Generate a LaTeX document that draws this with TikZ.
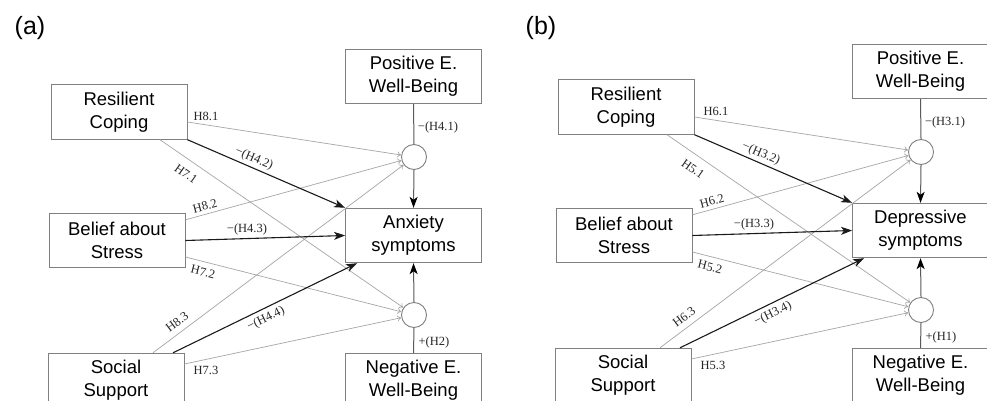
\documentclass[tikz,border=0pt]{standalone}
\usepackage{fontspec}
\setmainfont{Liberation Serif}
\newfontfamily\sansf{Liberation Sans}
\usetikzlibrary{arrows.meta}
\definecolor{boxgray}{HTML}{808080}
\definecolor{thingray}{HTML}{A6A6A6}
\definecolor{darkln}{HTML}{1A1A1A}
\begin{document}
\begin{tikzpicture}[x=1pt,y=-1pt,
  vbox/.style={draw=boxgray,line width=0.9pt,minimum width=136pt,minimum height=54.5pt,
     align=center,inner sep=0pt,font=\sansf\fontsize{18.5}{23}\selectfont},
  mod/.style={circle,draw=boxgray,line width=0.9pt,minimum size=25pt,inner sep=0pt},
  weak/.style={draw=thingray,line width=0.7pt,-{To[length=4pt,width=6pt]}},
  strong/.style={draw=darkln,line width=1.1pt,-{Stealth[length=11pt,width=8pt,inset=3pt]}},
  vline/.style={draw=black!65,line width=1pt},
  vstrong/.style={draw=black!65,line width=1pt,-{Stealth[length=11pt,width=8pt,inset=3pt,color=black]}},
  hlab/.style={font=\fontsize{12.5}{14}\selectfont,inner sep=0pt,text=black!85},
  plab/.style={font=\sansf\fontsize{25}{28}\selectfont,inner sep=0pt}]
\useasboundingbox (0,0) rectangle (987,401);
\fill[white] (0,0) rectangle (987,401);

% ---------------- panel (a)
\node[plab] (a-lab) at (30,28) {(a)};
\begin{scope}
\node[vbox] (a-rc) at (119,112) {Resilient\\Coping};
\node[vbox] (a-bs) at (117,240.5) {Belief about\\Stress};
\node[vbox] (a-ss) at (116,380.5) {Social\\Support};
\node[vbox] (a-pw) at (413.5,76.5) {Positive E.\\Well-Being};
\node[vbox] (a-an) at (413.5,235.5) {Anxiety\\symptoms};
\node[vbox] (a-nw) at (413.5,380.5) {Negative E.\\Well-Being};
\node[mod] (a-c1) at (414,157) {};
\node[mod] (a-c2) at (414,315) {};

\draw[vline] (a-pw.south) -- (a-c1.north);
\draw[vstrong] (a-c1.south) -- (a-an.north);
\draw[vline] (a-nw.north) -- (a-c2.south);
\draw[vstrong] (a-c2.north) -- (a-an.south);

\draw[weak] ([yshift=-10pt]a-rc.east) -- (a-c1);
\draw[weak] ([xshift=41pt]a-rc.south) -- (a-c2);
\draw[weak] ([yshift=-7pt]a-bs.north east) -- (a-c1);
\draw[weak] ([yshift=-16.5pt]a-bs.east) -- (a-c2);
\draw[weak] ([xshift=37pt]a-ss.north) -- (a-c1);
\draw[weak] ([yshift=16.5pt]a-ss.east) -- (a-c2);

\draw[strong] (a-rc.south east) -- (a-an.north west);
\draw[strong] (a-bs.east) -- (a-an.west);
\draw[strong] ([xshift=57pt]a-ss.north) -- ([xshift=12pt]a-an.south west);

\node[hlab] (a-l1) at (206,116) {H8.1};
\node[hlab,rotate=-35] (a-l2) at (186,174) {H7.1};
\node[hlab,rotate=-23] (a-l3) at (254,159) {−(H4.2)};
\node[hlab,rotate=15] (a-l4) at (205,206) {H8.2};
\node[hlab] (a-l5) at (247,229) {−(H4.3)};
\node[hlab,rotate=-14] (a-l6) at (203,272) {H7.2};
\node[hlab,rotate=37] (a-l7) at (177,322) {H8.3};
\node[hlab,rotate=26] (a-l8) at (266,319) {−(H4.4)};
\node[hlab] (a-l9) at (206,370) {H7.3};
\node[hlab] (a-l10) at (438,127) {−(H4.1)};
\node[hlab] (a-l11) at (434,342) {+(H2)};
\end{scope}

% ---------------- panel (b)
\node[plab] (b-lab) at (541,28) {(b)};
\begin{scope}[shift={(507,-5)}]
\node[vbox] (b-rc) at (119,112) {Resilient\\Coping};
\node[vbox] (b-bs) at (117,240.5) {Belief about\\Stress};
\node[vbox] (b-ss) at (116,380.5) {Social\\Support};
\node[vbox] (b-pw) at (413.5,76.5) {Positive E.\\Well-Being};
\node[vbox] (b-an) at (413.5,235.5) {Depressive\\symptoms};
\node[vbox] (b-nw) at (413.5,380.5) {Negative E.\\Well-Being};
\node[mod] (b-c1) at (414,157) {};
\node[mod] (b-c2) at (414,315) {};

\draw[vline] (b-pw.south) -- (b-c1.north);
\draw[vstrong] (b-c1.south) -- (b-an.north);
\draw[vline] (b-nw.north) -- (b-c2.south);
\draw[vstrong] (b-c2.north) -- (b-an.south);

\draw[weak] ([yshift=-10pt]b-rc.east) -- (b-c1);
\draw[weak] ([xshift=41pt]b-rc.south) -- (b-c2);
\draw[weak] ([yshift=-7pt]b-bs.north east) -- (b-c1);
\draw[weak] ([yshift=-16.5pt]b-bs.east) -- (b-c2);
\draw[weak] ([xshift=37pt]b-ss.north) -- (b-c1);
\draw[weak] ([yshift=16.5pt]b-ss.east) -- (b-c2);

\draw[strong] (b-rc.south east) -- (b-an.north west);
\draw[strong] (b-bs.east) -- (b-an.west);
\draw[strong] ([xshift=57pt]b-ss.north) -- ([xshift=12pt]b-an.south west);

\node[hlab] (b-l1) at (209,116) {H6.1};
\node[hlab,rotate=-35] (b-l2) at (186,174) {H5.1};
\node[hlab,rotate=-23] (b-l3) at (254,159) {−(H3.2)};
\node[hlab,rotate=15] (b-l4) at (205,206) {H6.2};
\node[hlab] (b-l5) at (247,229) {−(H3.3)};
\node[hlab,rotate=-14] (b-l6) at (203,272) {H5.2};
\node[hlab,rotate=37] (b-l7) at (177,322) {H6.3};
\node[hlab,rotate=26] (b-l8) at (266,319) {−(H3.4)};
\node[hlab] (b-l9) at (206,370) {H5.3};
\node[hlab] (b-l10) at (438,127) {−(H3.1)};
\node[hlab] (b-l11) at (434,342) {+(H1)};
\end{scope}
\end{tikzpicture}
\end{document}
